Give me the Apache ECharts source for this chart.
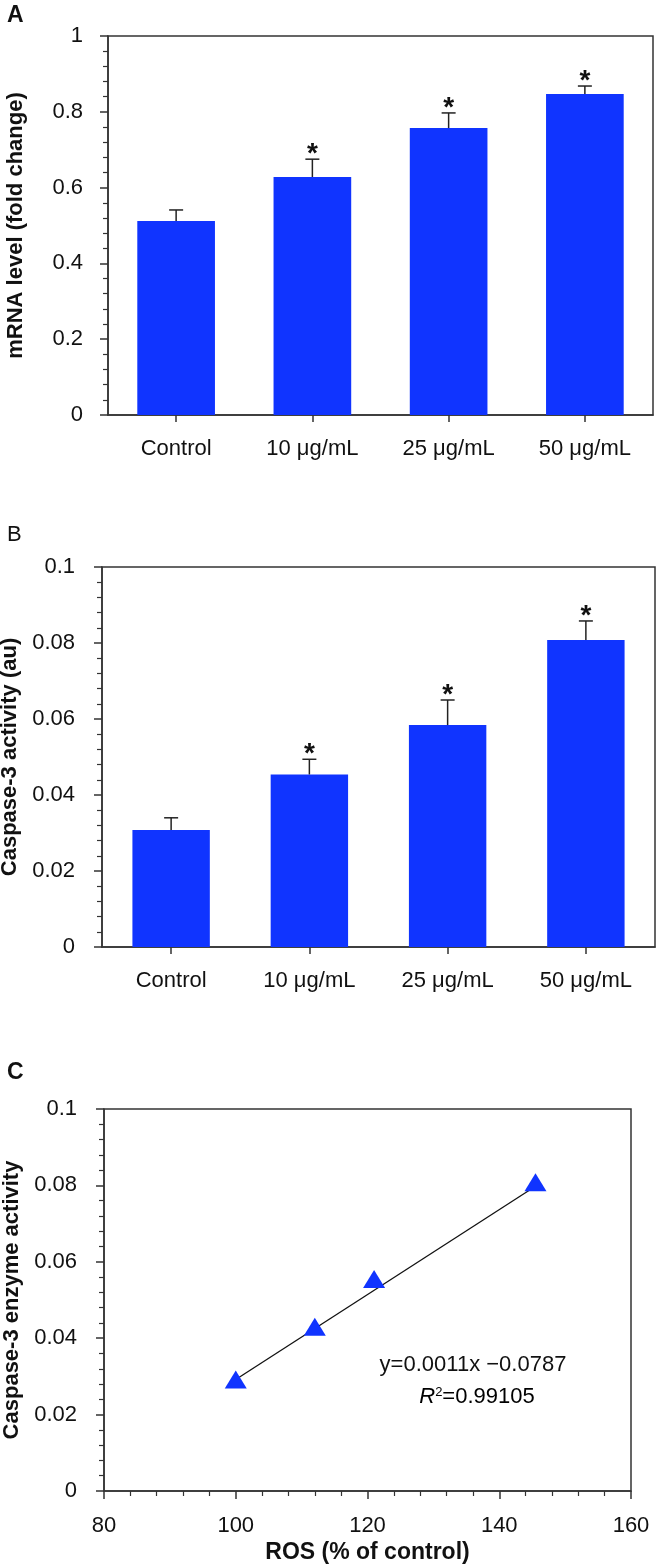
<!DOCTYPE html>
<html>
<head>
<meta charset="utf-8">
<script src="https://cdn.jsdelivr.net/npm/echarts@6/dist/echarts.min.js"></script>
<style>
html,body{margin:0;padding:0;background:#fff;}
#chart{width:656px;height:1566px;}
</style>
</head>
<body>
<div id="chart"></div>
<script>
// ---- data ----
const categories = ['Control', '10 μg/mL', '25 μg/mL', '50 μg/mL'];
const mrnaMean = [0.512, 0.628, 0.757, 0.847];
const mrnaErr = [0.029, 0.047, 0.040, 0.021];
const mrnaSig = [0, 1, 1, 1];
const caspMean = [0.0308, 0.0454, 0.0584, 0.0808];
const caspErr = [0.0032, 0.0040, 0.0066, 0.0050];
const caspSig = [0, 1, 1, 1];
const rosX = [100, 112, 121, 145.5];
const rosY = [0.0292, 0.0430, 0.0555, 0.0808];
const fitLine = [[100, 0.0292], [144.8, 0.0790]];
const yTicksA = [0, 1, 0.2];
const yTicksB = [0, 0.1, 0.02];
const xTicksC = [80, 160, 20];
const yTicksC = [0, 0.1, 0.02];

const FONT = 'Arial, "Liberation Sans", Helvetica, sans-serif';
const BLUE = '#1034FF';
const AXIS = '#333';

function errRender(params, api) {
  const x = api.value(0), v = api.value(1), e = api.value(2), star = api.value(3);
  const base = api.coord([x, v]);
  const top = api.coord([x, v + e]);
  const kids = [
    {type: 'line', shape: {x1: base[0], y1: base[1], x2: top[0], y2: top[1]}, style: {stroke: '#222', lineWidth: 1.5}},
    {type: 'line', shape: {x1: top[0] - 7, y1: top[1], x2: top[0] + 7, y2: top[1]}, style: {stroke: '#222', lineWidth: 1.5}}
  ];
  if (star) {
    kids.push({type: 'text', style: {text: '*', x: top[0], y: top[1] - 5, align: 'center', verticalAlign: 'middle',
      font: 'bold 28px ' + FONT, fill: '#111'}});
  }
  return {type: 'group', children: kids};
}

function yAxisCfg(gridIndex, t, name, nameGap, margin) {
  return {
    type: 'value', gridIndex: gridIndex, min: t[0], max: t[1], interval: t[2],
    name: name, nameLocation: 'middle', nameGap: nameGap,
    nameTextStyle: {fontFamily: FONT, fontWeight: 'bold', fontSize: 22, color: '#111'},
    axisLine: {show: true, lineStyle: {color: AXIS, width: 1.5}},
    axisTick: {show: true, inside: false, length: 8, lineStyle: {color: AXIS, width: 1.5}},
    minorTick: {show: true, splitNumber: 5, length: 5, lineStyle: {color: AXIS, width: 1.2}},
    splitLine: {show: false},
    axisLabel: {fontFamily: FONT, fontSize: 22, color: '#111', margin: margin}
  };
}

function catAxisCfg(gridIndex) {
  return {
    type: 'category', gridIndex: gridIndex, data: categories, boundaryGap: true,
    axisLine: {show: true, lineStyle: {color: AXIS, width: 1.5}},
    axisTick: {show: true, alignWithLabel: true, inside: false, length: 7, lineStyle: {color: AXIS, width: 1.5}},
    axisLabel: {fontFamily: FONT, fontSize: 22, color: '#111', margin: 23},
    splitLine: {show: false}
  };
}

const chart = echarts.init(document.getElementById('chart'), null, {renderer: 'canvas'});

const gridBase = {show: true, borderColor: AXIS, borderWidth: 1.5, containLabel: false, outerBoundsMode: 'none'};

const option = {
  animation: false,
  backgroundColor: '#fff',
  grid: [
    Object.assign({left: 108, top: 36, width: 545, height: 379}, gridBase),
    Object.assign({left: 102, top: 567, width: 553, height: 380}, gridBase),
    Object.assign({left: 104, top: 1109, width: 527, height: 382}, gridBase)
  ],
  xAxis: [
    catAxisCfg(0),
    catAxisCfg(1),
    {
      type: 'value', gridIndex: 2, min: xTicksC[0], max: xTicksC[1], interval: xTicksC[2],
      name: 'ROS (% of control)', nameLocation: 'middle', nameGap: 50,
      nameTextStyle: {fontFamily: FONT, fontWeight: 'bold', fontSize: 23, color: '#111'},
      axisLine: {show: true, lineStyle: {color: AXIS, width: 1.5}},
      axisTick: {show: true, inside: false, length: 8, lineStyle: {color: AXIS, width: 1.5}},
      minorTick: {show: true, splitNumber: 5, length: 5, lineStyle: {color: AXIS, width: 1.2}},
      splitLine: {show: false},
      axisLabel: {fontFamily: FONT, fontSize: 22, color: '#111', margin: 24}
    }
  ],
  yAxis: [
    yAxisCfg(0, yTicksA, 'mRNA level (fold change)', 81, 25),
    yAxisCfg(1, yTicksB, 'Caspase-3 activity (au)', 76, 27),
    yAxisCfg(2, yTicksC, 'Caspase-3 enzyme activity', 78, 27)
  ],
  series: [
    {type: 'bar', xAxisIndex: 0, yAxisIndex: 0, data: mrnaMean, barWidth: '57%',
      itemStyle: {color: BLUE}},
    {type: 'custom', xAxisIndex: 0, yAxisIndex: 0, renderItem: errRender, z: 5,
      data: mrnaMean.map((v, i) => [i, v, mrnaErr[i], mrnaSig[i]])},
    {type: 'bar', xAxisIndex: 1, yAxisIndex: 1, data: caspMean, barWidth: '56%',
      itemStyle: {color: BLUE}},
    {type: 'custom', xAxisIndex: 1, yAxisIndex: 1, renderItem: errRender, z: 5,
      data: caspMean.map((v, i) => [i, v, caspErr[i], caspSig[i]])},
    {type: 'line', xAxisIndex: 2, yAxisIndex: 2, data: fitLine, symbol: 'none',
      lineStyle: {color: '#111', width: 1.3}, z: 2},
    {type: 'scatter', xAxisIndex: 2, yAxisIndex: 2, data: rosX.map((x, i) => [x, rosY[i]]),
      symbol: 'triangle', symbolSize: [22, 18], itemStyle: {color: BLUE, opacity: 1}, z: 3}
  ],
  graphic: [
    {type: 'text', left: 7, top: 4, style: {text: 'A', font: 'bold 23px ' + FONT, fill: '#111'}},
    {type: 'text', left: 7, top: 524, style: {text: 'B', font: '22px ' + FONT, fill: '#111'}},
    {type: 'text', left: 7, top: 1061, style: {text: 'C', font: 'bold 23px ' + FONT, fill: '#111'}},
    {type: 'text', x: 473, y: 1365, style: {text: 'y=0.0011x \u22120.0787', align: 'center', verticalAlign: 'middle',
      font: '22px ' + FONT, fill: '#111'}},
    {type: 'text', x: 477, y: 1397, style: {
      text: '{i|R}{s|2}{n|=0.99105}', align: 'center', verticalAlign: 'middle',
      rich: {
        i: {fontFamily: FONT, fontStyle: 'italic', fontSize: 22, color: '#111'},
        s: {fontFamily: FONT, fontSize: 13, color: '#111', verticalAlign: 'top', padding: [0, 0, 9, 0]},
        n: {fontFamily: FONT, fontSize: 22, color: '#111'}
      }}}
  ]
};
chart.setOption(option);
</script>
</body>
</html>
